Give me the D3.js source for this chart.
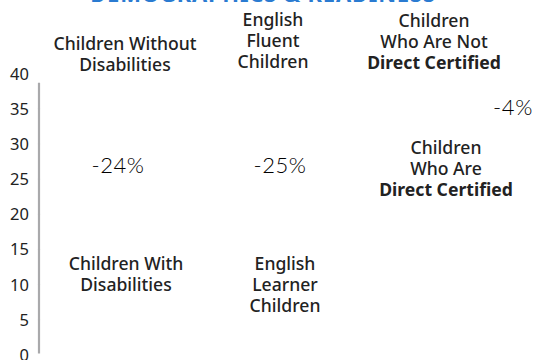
<!DOCTYPE html>
<html>
<head>
<meta charset="utf-8">
<script src="https://cdn.jsdelivr.net/npm/d3@7"></script>
<style>
  html, body { margin: 0; padding: 0; background: #fff; }
  svg { display: block; }
</style>
</head>
<body>
<svg id="chart" width="535" height="360"></svg>
<script>
// ---- data ----
const title = "DEMOGRAPHICS & READINESS";
const groups = ["Disabilities", "English", "DirectCert"];
const upperLabels = [
  ["Children Without", "Disabilities"],
  ["English", "Fluent", "Children"],
  ["Children", "Who Are Not", "Direct Certified"]
];
const lowerLabels = [
  ["Children With", "Disabilities"],
  ["English", "Learner", "Children"],
  ["Children", "Who Are", "Direct Certified"]
];
const boldLast = [false, false, true];
// label levels (value at first baseline)
const upperLevels = [43.3, 46.7, 46.5];
const lowerLevels = [12.0, 12.0, 28.5];
const gaps = ["-24%", "-25%", "-4%"];
const gapLevels = [25.8, 25.8, 34.0];
const yTicks = [0, 5, 10, 15, 20, 25, 30, 35, 40];

// ---- layout ----
const svg = d3.select("#chart");
const y = d3.scaleLinear().domain([0, 40]).range([354.5, 73.1]);
const xUpper = d3.scaleOrdinal().domain(groups).range([125, 273, 434]);
const xLower = d3.scaleOrdinal().domain(groups).range([126, 285, 446]);
const xGap = d3.scaleOrdinal().domain(groups).range([118, 280, 513]);
const labelFont = "'Noto Sans', sans-serif";
const lineH = 21;

// title (mostly clipped at top)
svg.append("text")
  .attr("x", 263).attr("y", 1.5)
  .attr("text-anchor", "middle")
  .attr("font-family", labelFont)
  .attr("font-weight", 700)
  .attr("font-size", 22)
  .attr("letter-spacing", 0.8)
  .attr("fill", "#2a7bd1")
  .text(title);

// y axis
const axisX = 39;
const axis = svg.append("g").attr("transform", `translate(${axisX},0)`)
  .call(d3.axisLeft(y).tickValues(yTicks).tickSize(0).tickPadding(10));
axis.select(".domain").remove();
axis.append("line")
  .attr("x1", 0).attr("x2", 0)
  .attr("y1", 82.7).attr("y2", y(0) - 1)
  .attr("stroke", "#a9a9ab").attr("stroke-width", 2.2);
axis.selectAll(".tick").append("line")
  .attr("x1", -1.2).attr("x2", 1.2)
  .attr("stroke", "#e4e4e4").attr("stroke-width", 1)
  .attr("opacity", d => (d === 0 || d === 40) ? 0 : 1);
axis.selectAll(".tick text")
  .attr("font-family", labelFont)
  .attr("font-size", 16.5)
  .attr("fill", "#222")
  .attr("dy", "0.36em");

function drawLabels(labels, levels, xs) {
  labels.forEach((lines, i) => {
    const t = svg.append("text")
      .attr("text-anchor", "middle")
      .attr("font-family", labelFont)
      .attr("font-size", 17.6)
      .attr("fill", "#222");
    lines.forEach((ln, j) => {
      t.append("tspan")
        .attr("x", xs(groups[i]))
        .attr("y", y(levels[i]) + j * lineH)
        .attr("font-weight", (boldLast[i] && j === lines.length - 1) ? 700 : 500)
        .text(ln);
    });
  });
}
drawLabels(upperLabels, upperLevels, xUpper);
drawLabels(lowerLabels, lowerLevels, xLower);

svg.selectAll("text.gap").data(gaps).enter().append("text")
  .attr("class", "gap")
  .attr("x", (d, i) => xGap(groups[i]))
  .attr("y", (d, i) => y(gapLevels[i]))
  .attr("text-anchor", "middle")
  .attr("font-family", "Lato, sans-serif")
  .attr("font-weight", 300)
  .attr("font-size", 22)
  .attr("letter-spacing", 0.6)
  .attr("fill", "#000")
  .text(d => d);
</script>
</body>
</html>
